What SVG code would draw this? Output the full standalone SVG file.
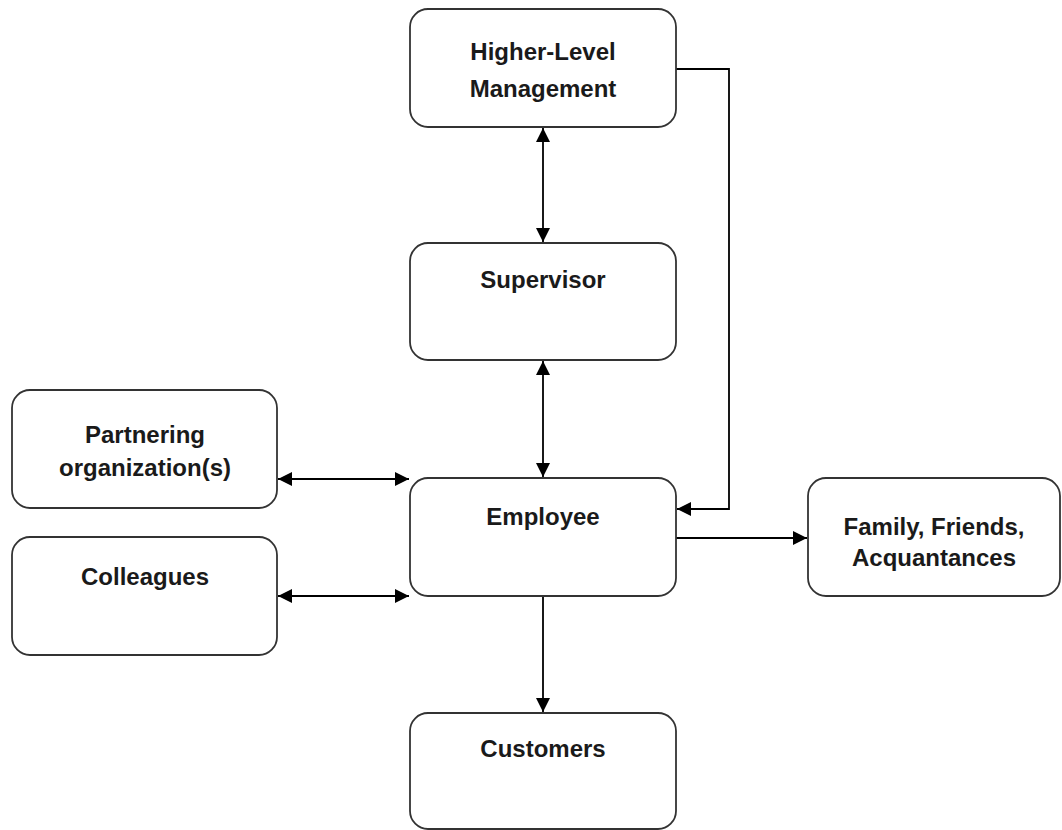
<svg xmlns="http://www.w3.org/2000/svg" width="1062" height="830" viewBox="0 0 1062 830">
<style>
.box{fill:#fff;stroke:#333;stroke-width:1.8}
.t{font-family:"Liberation Sans",Arial,sans-serif;font-weight:bold;font-size:24px;fill:#1a1a1a;text-anchor:middle}
.c{fill:none;stroke:#000;stroke-width:1.8}
</style>
<defs>
<marker id="ah" viewBox="0 0 14 14" refX="14" refY="7" markerWidth="14" markerHeight="14" markerUnits="userSpaceOnUse" orient="auto-start-reverse">
<path d="M0,0 L14,7 L0,14 z" fill="#000"/>
</marker>
</defs>
<rect width="1062" height="830" fill="#fff"/>
<g id="connectors">
<line class="c" x1="543" y1="128" x2="543" y2="242" marker-start="url(#ah)" marker-end="url(#ah)"/>
<line class="c" x1="543" y1="361" x2="543" y2="477" marker-start="url(#ah)" marker-end="url(#ah)"/>
<line class="c" x1="278" y1="479" x2="409" y2="479" marker-start="url(#ah)" marker-end="url(#ah)"/>
<line class="c" x1="278" y1="596" x2="409" y2="596" marker-start="url(#ah)" marker-end="url(#ah)"/>
<polyline class="c" points="676,69 729,69 729,509 677,509" marker-end="url(#ah)"/>
<line class="c" x1="676" y1="538" x2="807" y2="538" marker-end="url(#ah)"/>
<line class="c" x1="543" y1="596" x2="543" y2="712" marker-end="url(#ah)"/>
</g>
<g id="hlm"><rect class="box" x="410" y="9" width="266" height="118" rx="18"/><text class="t" x="543" y="60">Higher-Level</text><text class="t" x="543" y="97">Management</text></g>
<g id="supervisor"><rect class="box" x="410" y="243" width="266" height="117" rx="18"/><text class="t" x="543" y="288">Supervisor</text></g>
<g id="employee"><rect class="box" x="410" y="478" width="266" height="118" rx="18"/><text class="t" x="543" y="525">Employee</text></g>
<g id="partnering"><rect class="box" x="12" y="390" width="265" height="118" rx="18"/><text class="t" x="145" y="443">Partnering</text><text class="t" x="145" y="476">organization(s)</text></g>
<g id="colleagues"><rect class="box" x="12" y="537" width="265" height="118" rx="18"/><text class="t" x="145" y="585">Colleagues</text></g>
<g id="family"><rect class="box" x="808" y="478" width="252" height="118" rx="18"/><text class="t" x="934" y="535">Family, Friends,</text><text class="t" x="934" y="566">Acquantances</text></g>
<g id="customers"><rect class="box" x="410" y="713" width="266" height="116" rx="18"/><text class="t" x="543" y="757">Customers</text></g>
</svg>
